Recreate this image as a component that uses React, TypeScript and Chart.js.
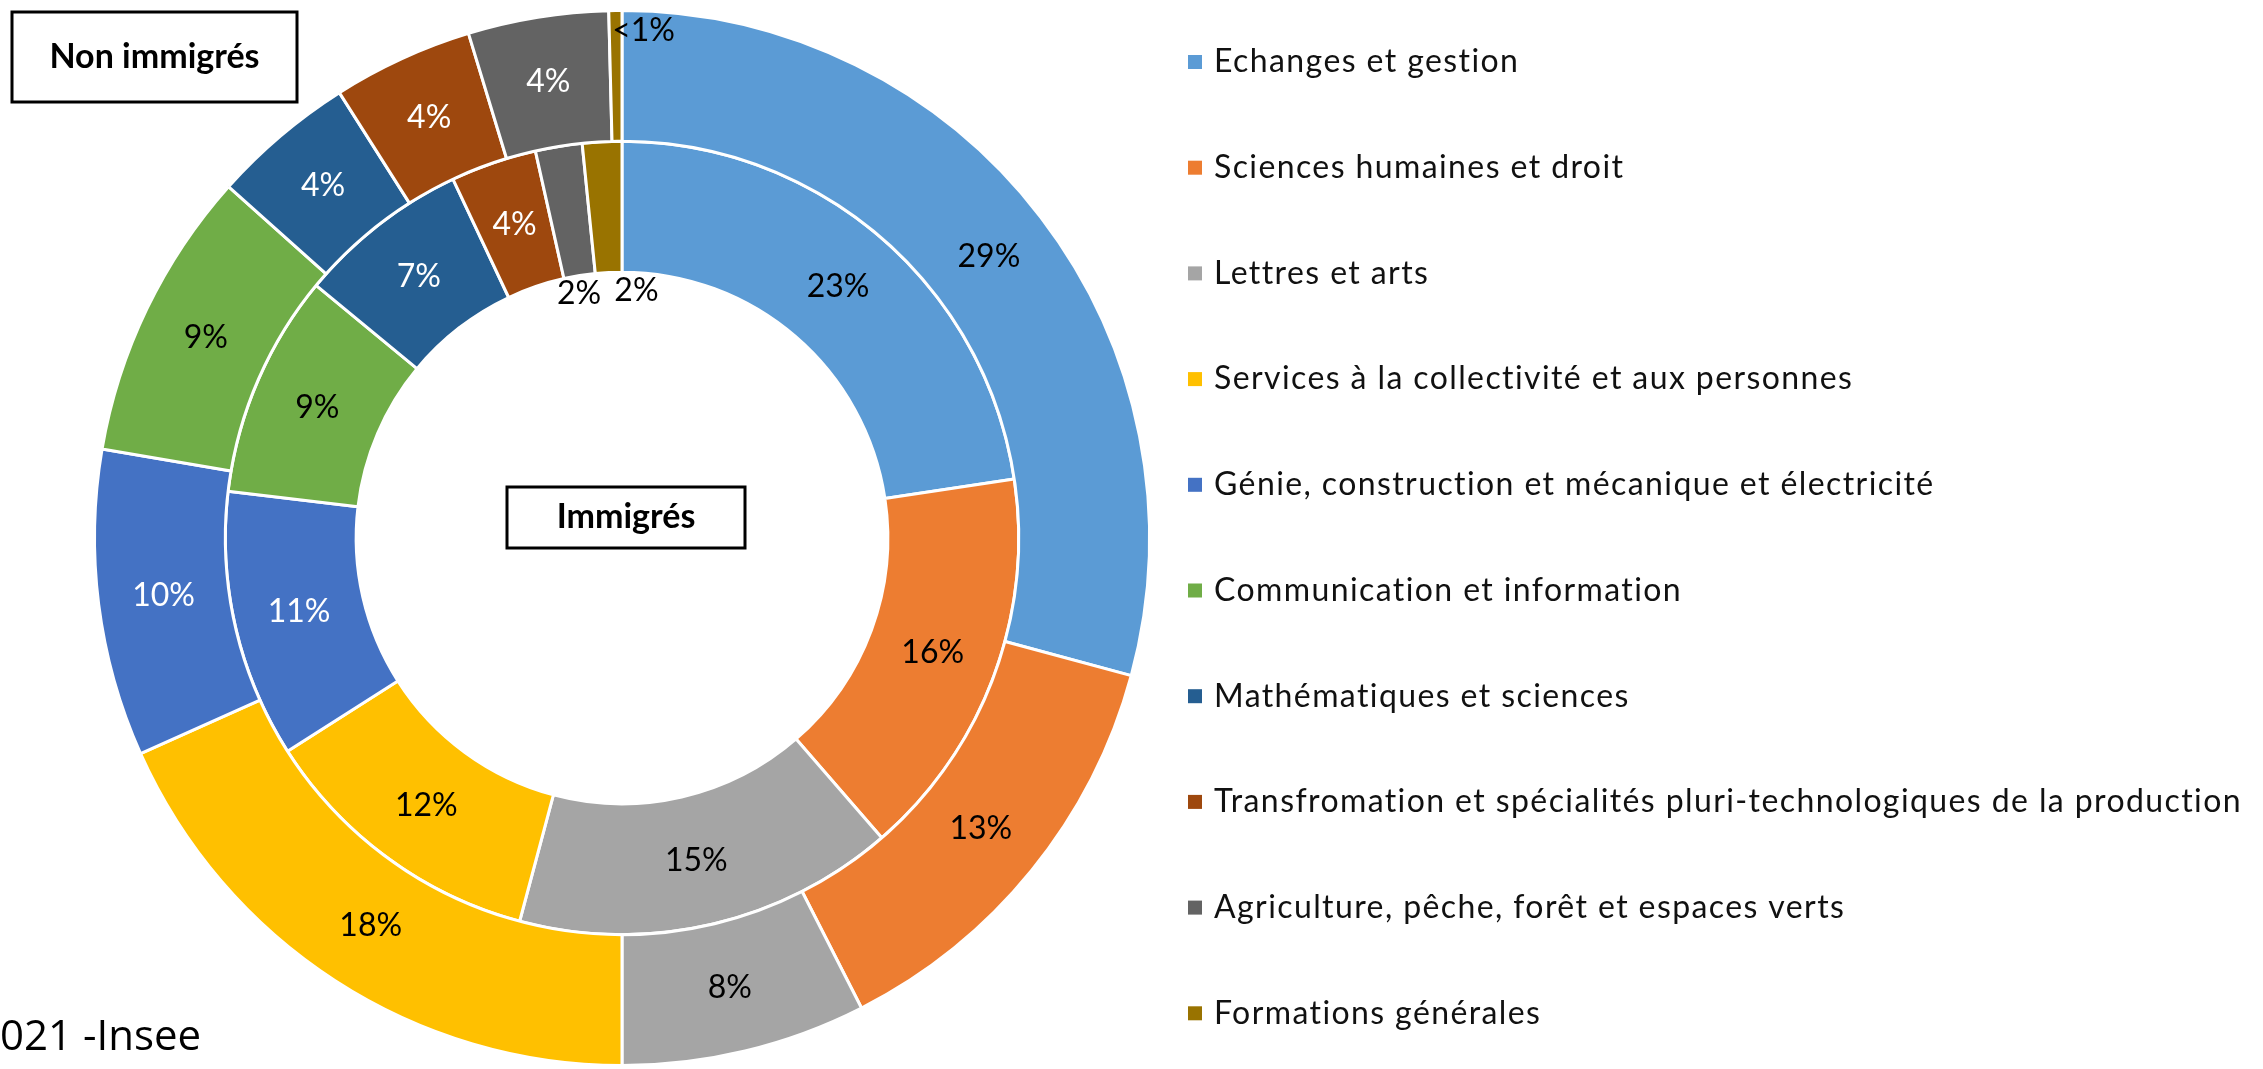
import React, { useEffect, useRef } from 'react';
import { Chart, registerables } from 'chart.js';

Chart.register(...registerables);

const categories = [
  'Echanges et gestion',
  'Sciences humaines et droit',
  'Lettres et arts',
  'Services à la collectivité et aux personnes',
  'Génie, construction et mécanique et électricité',
  'Communication et information',
  'Mathématiques et sciences',
  'Transfromation et spécialités pluri-technologiques de la production',
  'Agriculture, pêche, forêt et espaces verts',
  'Formations générales',
];

const nonImmigres = [29.2, 13.3, 7.5, 18.3, 9.4, 8.9, 4.4, 4.3, 4.3, 0.4];
const immigres = [22.6, 16.0, 15.5, 11.8, 10.9, 9.1, 7.0, 3.5, 1.9, 1.6];

const nonImmigresLabels = ['29%', '13%', '8%', '18%', '10%', '9%', '4%', '4%', '4%', '<1%'];
const immigresLabels = ['23%', '16%', '15%', '12%', '11%', '9%', '7%', '4%', '2%', '2%'];

const colors = ['#5B9BD5', '#ED7D31', '#A5A5A5', '#FFC000', '#4472C4', '#70AD47', '#255E91', '#9E480E', '#636363', '#997300'];

const seriesTitles = ['Non immigrés', 'Immigrés'];
const sourceText = '021 -Insee';

// label styling per ring (index: dataset) — style only, not data
const labelColors = [
  ['#000', '#000', '#000', '#000', '#fff', '#000', '#fff', '#fff', '#fff', '#000'],
  ['#000', '#000', '#000', '#000', '#fff', '#000', '#fff', '#fff', '#000', '#000'],
];
// placement overrides: offset relative to ring edge, dx nudge
const placements: Record<string, { edge: 'outer' | 'inner'; r: number; dx: number; dy: number }> = {
  '0-9': { edge: 'outer', r: -20, dx: 28, dy: 0 },
  '1-8': { edge: 'inner', r: -16, dx: -3, dy: 2 },
  '1-9': { edge: 'inner', r: -16, dx: 27, dy: 2 },
};

const FONT = 'Lato, "Open Sans", sans-serif';

const labelsPlugin = {
  id: 'pctLabels',
  afterDatasetsDraw(chart: any) {
    const ctx = chart.ctx;
    ctx.save();
    ctx.font = `32px ${FONT}`;
    ctx.textAlign = 'center';
    ctx.textBaseline = 'middle';
    const texts = [nonImmigresLabels, immigresLabels];
    chart.data.datasets.forEach((_ds: any, di: number) => {
      const meta = chart.getDatasetMeta(di);
      meta.data.forEach((arc: any, i: number) => {
        const p = arc.getProps(['x', 'y', 'startAngle', 'endAngle', 'innerRadius', 'outerRadius'], true);
        const mid = (p.startAngle + p.endAngle) / 2;
        let r = (p.innerRadius + p.outerRadius) / 2;
        let dx = 0, dy = 0;
        const o = placements[`${di}-${i}`];
        if (o) {
          r = (o.edge === 'outer' ? p.outerRadius : p.innerRadius) + o.r;
          dx = o.dx; dy = o.dy;
        }
        const x = p.x + Math.cos(mid) * r + dx;
        const y = p.y + Math.sin(mid) * r + dy;
        ctx.fillStyle = labelColors[di][i];
        ctx.fillText(texts[di][i], x, y);
      });
    });
    ctx.restore();
  },
};

const legendPlugin = {
  id: 'sideLegend',
  afterDraw(chart: any) {
    const ctx = chart.ctx;
    ctx.save();
    ctx.font = `32px ${FONT}`;
    try { (ctx as any).letterSpacing = '1.4px'; } catch (e) { /* ignore */ }
    ctx.textAlign = 'left';
    ctx.textBaseline = 'middle';
    const top = 62, step = 105.7;
    categories.forEach((c, i) => {
      const y = top + i * step;
      ctx.fillStyle = colors[i];
      ctx.fillRect(1188, y - 7, 14, 14);
      ctx.fillStyle = '#111';
      ctx.fillText(c, 1214, y);
    });
    ctx.restore();
  },
};

const annotationsPlugin = {
  id: 'boxes',
  afterDraw(chart: any) {
    const ctx = chart.ctx;
    ctx.save();
    ctx.strokeStyle = '#000';
    ctx.lineWidth = 3;
    const boxes = [
      { x: 12, y: 12, w: 285, h: 90, t: seriesTitles[0] },
      { x: 507, y: 487, w: 238, h: 61, t: seriesTitles[1] },
    ];
    boxes.forEach((b) => {
      ctx.fillStyle = '#fff';
      ctx.fillRect(b.x, b.y, b.w, b.h);
      ctx.strokeRect(b.x, b.y, b.w, b.h);
      ctx.fillStyle = '#000';
      ctx.font = `bold 34px ${FONT}`;
      ctx.textAlign = 'center';
      ctx.textBaseline = 'middle';
      ctx.fillText(b.t, b.x + b.w / 2, b.y + b.h / 2);
    });
    ctx.fillStyle = '#000';
    ctx.font = '42px "Open Sans", sans-serif';
    ctx.textAlign = 'left';
    ctx.textBaseline = 'alphabetic';
    ctx.fillText(sourceText, 0, 1050);
    ctx.restore();
  },
};

export default function App() {
  const ref = useRef<HTMLCanvasElement>(null);
  useEffect(() => {
    document.body.style.margin = '0';
    const canvas = ref.current!;
    const chart = new Chart(canvas, {
      type: 'doughnut',
      data: {
        labels: categories,
        datasets: [
          { label: seriesTitles[0], data: nonImmigres, backgroundColor: colors, borderColor: '#fff', borderWidth: 3 },
          { label: seriesTitles[1], data: immigres, backgroundColor: colors, borderColor: '#fff', borderWidth: 3 },
        ],
      },
      options: {
        responsive: false,
        animation: false,
        cutout: '50.4%',
        layout: { padding: { left: 93, top: 9, right: 1112, bottom: 2 } },
        plugins: { legend: { display: false }, tooltip: { enabled: false } },
      },
      plugins: [labelsPlugin, legendPlugin, annotationsPlugin],
    } as any);
    return () => chart.destroy();
  }, []);
  return (
    <div style={{ position: 'absolute', left: 0, top: 0, width: 2263, height: 1069, background: '#fff' }}>
      <canvas ref={ref} width={2263} height={1069} style={{ display: 'block', width: 2263, height: 1069 }} />
    </div>
  );
}
